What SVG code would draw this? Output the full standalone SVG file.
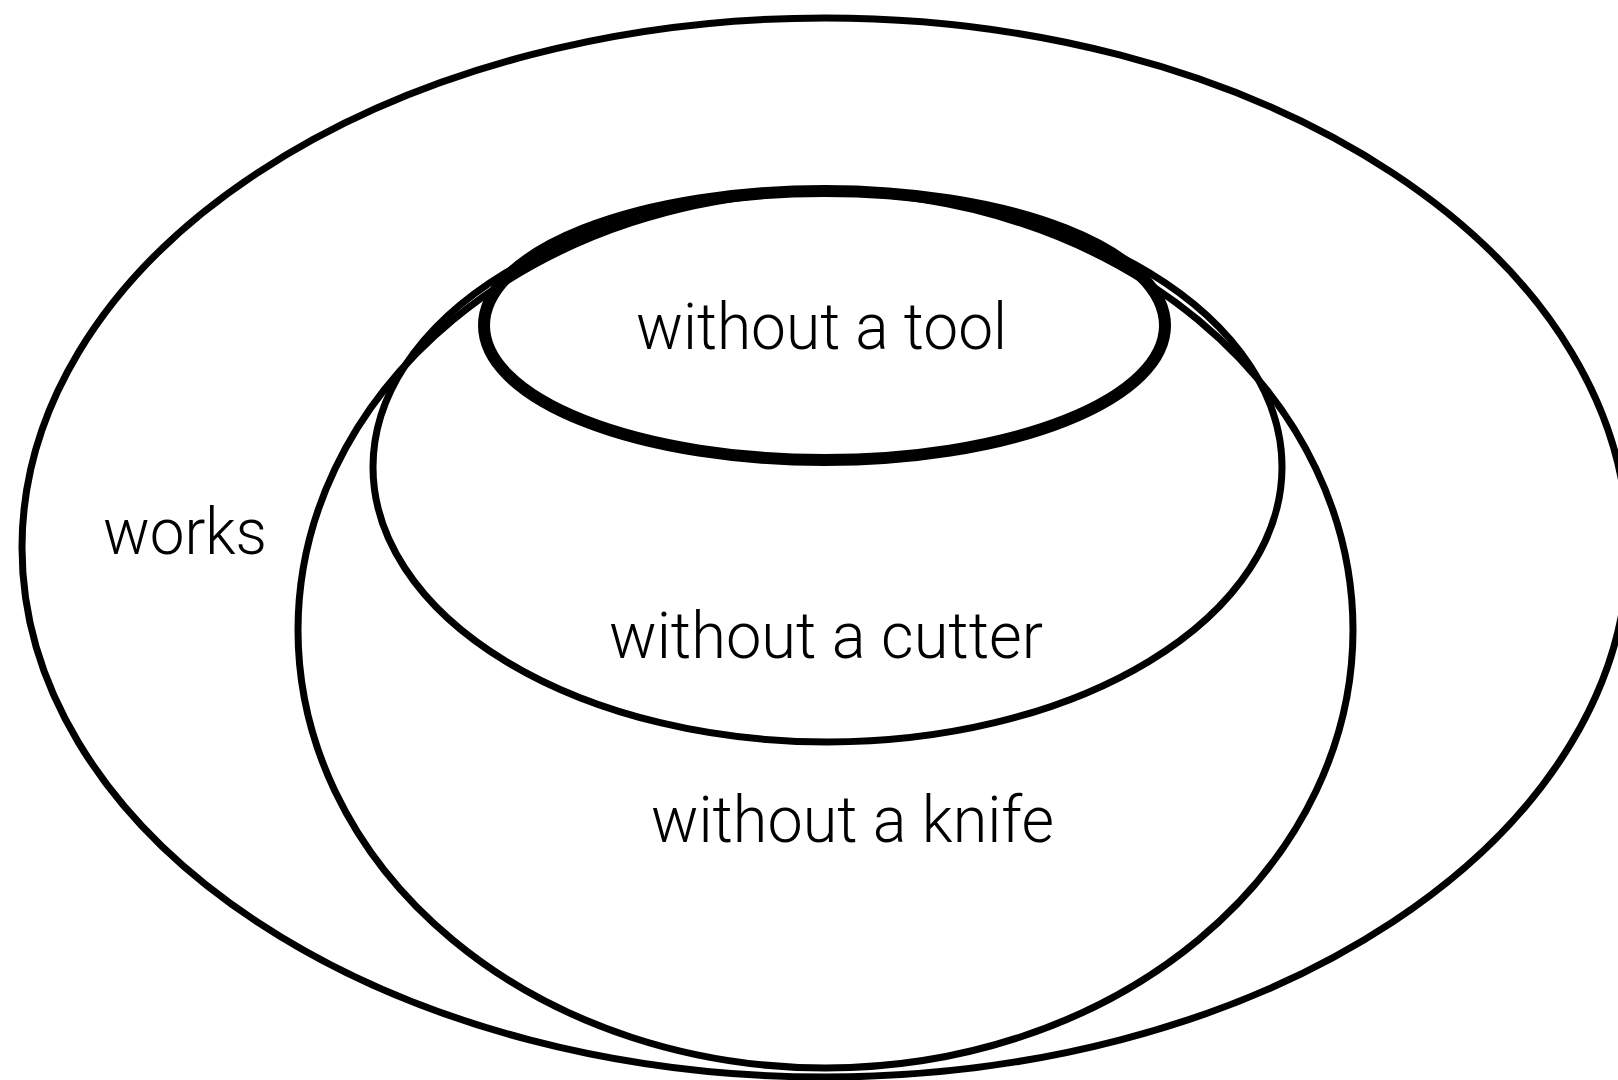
<svg xmlns="http://www.w3.org/2000/svg" width="1618" height="1080" viewBox="0 0 1618 1080">
  <style>
    .ring { fill: none; stroke: #000; stroke-width: 7; }
    .ring-bold { fill: none; stroke: #000; stroke-width: 12; }
    .label { font-family: Roboto, "Liberation Sans", sans-serif; font-weight: 300; font-size: 64px; fill: #000; }
  </style>
  <rect width="1618" height="1080" fill="#fff"/>

  <!-- nested sets, outermost first; they share a common top tangent -->
  <g id="works">
    <ellipse class="ring" cx="825" cy="547.5" rx="803" ry="529.5"/>
    <text class="label" x="103" y="554" textLength="164" lengthAdjust="spacingAndGlyphs">works</text>
  </g>

  <g id="without-knife">
    <ellipse class="ring" cx="825.5" cy="630" rx="527.5" ry="438"/>
    <text class="label" x="651" y="842" textLength="403" lengthAdjust="spacingAndGlyphs">without a knife</text>
  </g>

  <g id="without-cutter">
    <ellipse class="ring" cx="827.5" cy="467" rx="454.5" ry="275"/>
    <text class="label" x="609" y="658" textLength="434" lengthAdjust="spacingAndGlyphs">without a cutter</text>
  </g>

  <g id="without-tool">
    <ellipse class="ring-bold" cx="824.5" cy="325.5" rx="340.5" ry="134.5"/>
    <text class="label" x="636" y="349" textLength="371" lengthAdjust="spacingAndGlyphs">without a tool</text>
  </g>

  <g id="connectors"/>
</svg>
